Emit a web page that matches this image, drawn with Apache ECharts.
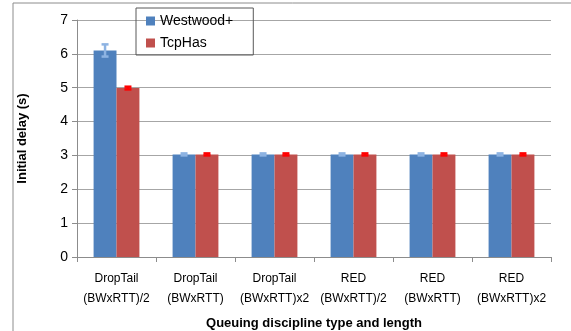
<!DOCTYPE html>
<html><head><meta charset="utf-8">
<script src="https://cdn.jsdelivr.net/npm/echarts@6/dist/echarts.min.js"></script>
<style>html,body{margin:0;padding:0;background:#fff}#c{width:571px;height:331px}</style>
</head><body><div id="c"></div>
<script>
const categories = ['DropTail\n(BWxRTT)/2','DropTail\n(BWxRTT)','DropTail\n(BWxRTT)x2','RED\n(BWxRTT)/2','RED\n(BWxRTT)','RED\n(BWxRTT)x2'];
const seriesNames = ['Westwood+','TcpHas'];
const westwood = [6.1, 3.03, 3.03, 3.03, 3.03, 3.03];
const westwoodErr = [0.18, 0.03, 0.03, 0.03, 0.03, 0.03];
const tcphas = [4.99, 3.03, 3.03, 3.03, 3.03, 3.03];
const tcphasErr = [0.04, 0.03, 0.03, 0.03, 0.03, 0.03];
const yTicks = [0,1,2,3,4,5,6,7];

const FONT = 'Liberation Sans';
const chart = echarts.init(document.getElementById('c'));

function errSeries(vals, errs, idx, color) {
  return {
    type: 'custom',
    z: 10,
    data: vals.map((v,i)=>[i, v, errs[i]]),
    renderItem: function(params, api) {
      const i = api.value(0), v = api.value(1), e = api.value(2);
      const bw = api.size([1,0])[0];
      const barW = bw * 0.29;
      const cx = api.coord([i, v])[0] + (idx === 0 ? -barW/2 : barW/2);
      const top = api.coord([i, v + e])[1];
      const bot = api.coord([i, v - e])[1];
      const hw = 3.5;
      const st = {stroke: color, lineWidth: 2.5};
      return {type:'group', children:[
        {type:'line', shape:{x1:cx,y1:top,x2:cx,y2:bot}, style:st},
        {type:'line', shape:{x1:cx-hw,y1:top,x2:cx+hw,y2:top}, style:st},
        {type:'line', shape:{x1:cx-hw,y1:bot,x2:cx+hw,y2:bot}, style:st}
      ]};
    }
  };
}

chart.setOption({
  animation: false,
  textStyle: {fontFamily: FONT},
  graphic: [{type:'rect', shape:{x:13,y:3,width:700,height:500}, style:{fill:'none', stroke:'#8c8c8c', lineWidth:1}, z:-1}],
  grid: {left: 77, right: 20, top: 20, bottom: 74, containLabel: false, outerBoundsMode: 'none'},
  legend: {
    data: seriesNames.map(n=>({name:n, icon:'rect'})),
    orient: 'vertical', left: 136, top: 8,
    itemWidth: 9, itemHeight: 9, itemGap: 8,
    padding: [6, 20, 5, 10],
    borderColor: '#595959', borderWidth: 1,
    textStyle: {fontFamily: FONT, fontSize: 14, color: '#000'}
  },
  xAxis: {
    type: 'category', data: categories,
    name: 'Queuing discipline type and length', nameLocation: 'middle', nameGap: 60,
    nameTextStyle: {fontFamily: FONT, fontSize: 13, fontWeight: 'bold', color: '#000'},
    axisLine: {lineStyle: {color: '#8c8c8c'}},
    axisTick: {show: true, length: 5, lineStyle: {color: '#8c8c8c'}},
    axisLabel: {interval: 0, fontFamily: FONT, fontSize: 12, color: '#000', lineHeight: 20, margin: 12}
  },
  yAxis: {
    type: 'value', min: 0, max: 7, interval: 1,
    name: 'Initial delay (s)', nameLocation: 'middle', nameGap: 48,
    nameTextStyle: {fontFamily: FONT, fontSize: 13, fontWeight: 'bold', color: '#000'},
    axisLine: {show: true, lineStyle: {color: '#8c8c8c'}},
    axisTick: {show: true, length: 5, lineStyle: {color: '#8c8c8c'}},
    axisLabel: {fontFamily: FONT, fontSize: 14, color: '#000', margin: 9, formatter: v => yTicks.includes(v) ? String(v) : ''},
    splitLine: {lineStyle: {color: '#a6a6a6'}}
  },
  series: [
    {name: seriesNames[0], type: 'bar', data: westwood, barWidth: '29%', barGap: '0%', itemStyle: {color: '#4F81BD'}},
    {name: seriesNames[1], type: 'bar', data: tcphas, barWidth: '29%', itemStyle: {color: '#C0504D'}},
    errSeries(westwood, westwoodErr, 0, '#8DB3E2'),
    errSeries(tcphas, tcphasErr, 1, '#FF0000')
  ]
});
</script></body></html>
